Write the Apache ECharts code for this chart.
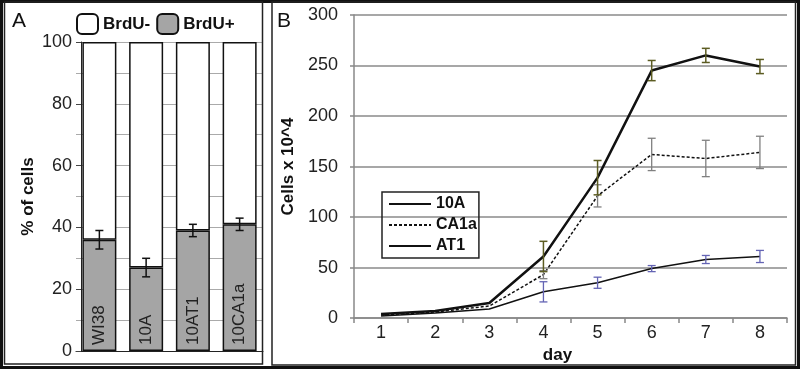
<!DOCTYPE html>
<html><head><meta charset="utf-8">
<script src="https://cdn.jsdelivr.net/npm/echarts@6/dist/echarts.min.js"></script>
<style>html,body{margin:0;padding:0;background:#fff}#c{width:800px;height:369px}</style>
</head><body><div id="c"></div>
<script>
// Panel A data
const catsA = ['WI38', '10A', '10AT1', '10CA1a'];
const brduPos = [36, 27, 39, 41];
const brduNeg = [64, 73, 61, 59];
const brduPosErr = [3, 3, 2, 2];
// Panel B data
const days = ['1', '2', '3', '4', '5', '6', '7', '8'];
const s10A = [2, 5, 9, 26, 35, 49, 58, 61];
const sCA1a = [3, 6, 12, 43, 121, 162, 158, 164];
const sAT1 = [4, 7, 15, 61, 139, 245, 260, 249];
const e10A = [0, 0, 0, 10, 5.5, 3, 4, 6];
const eCA1a = [0, 0, 0, 4, 11, 16, 18, 16];
const eAT1 = [0, 0, 0, 15, 17, 10, 7, 7];
const ticksA = [0, 20, 40, 60, 80, 100];
const ticksB = [0, 50, 100, 150, 200, 250, 300];

const FONT = 'Liberation Sans, Arial, sans-serif';

function errRender(color, cap, lw) {
  return function (params, api) {
    const x = api.value(0);
    const lo = api.value(1), hi = api.value(2);
    if (hi - lo <= 0) return null;
    const p1 = api.coord([x, lo]);
    const p2 = api.coord([x, hi]);
    const st = { stroke: color, lineWidth: lw };
    return {
      type: 'group',
      children: [
        { type: 'line', shape: { x1: p1[0], y1: p1[1], x2: p2[0], y2: p2[1] }, style: st },
        { type: 'line', shape: { x1: p1[0] - cap, y1: p1[1], x2: p1[0] + cap, y2: p1[1] }, style: st },
        { type: 'line', shape: { x1: p2[0] - cap, y1: p2[1], x2: p2[0] + cap, y2: p2[1] }, style: st }
      ]
    };
  };
}
function errData(vals, errs) {
  return vals.map((v, i) => [i, v - errs[i], v + errs[i]]);
}

const chart = echarts.init(document.getElementById('c'), null, { renderer: 'canvas' });
chart.setOption({
  animation: false,
  textStyle: { fontFamily: FONT },
  graphic: [
    { type: 'rect', shape: { x: 1.5, y: 1.5, width: 797, height: 366 }, style: { fill: 'none', stroke: '#111', lineWidth: 3 }, z: 100 },
    { type: 'rect', shape: { x: 4.5, y: 2, width: 258, height: 362 }, style: { fill: 'none', stroke: '#222', lineWidth: 1.5 }, z: 100 },
    { type: 'rect', shape: { x: 272, y: 2, width: 523.5, height: 363 }, style: { fill: 'none', stroke: '#222', lineWidth: 1.5 }, z: 100 },
    { type: 'text', left: 12, top: 11, style: { text: 'A', font: '21px ' + FONT, fill: '#111' }, z: 100 },
    { type: 'text', left: 277, top: 11, style: { text: 'B', font: '21px ' + FONT, fill: '#111' }, z: 100 }
  ],
  legend: [
    {
      data: ['BrdU-', 'BrdU+'],
      left: 76, top: 13, itemWidth: 21, itemHeight: 20, itemGap: 6, padding: 0,
      textStyle: { fontWeight: 'bold', fontSize: 17, color: '#111', fontFamily: FONT }
    },
    {
      data: ['10A', 'CA1a', 'AT1'],
      orient: 'vertical', left: 382, top: 192,
      itemWidth: 42, itemHeight: 14, itemGap: 5,
      padding: [4, 2, 4, 6],
      borderColor: '#222', borderWidth: 1.5,
      itemStyle: { opacity: 0 },
      textStyle: { fontWeight: 'bold', fontSize: 16, color: '#111', fontFamily: FONT }
    }
  ],
  grid: [
    { left: 76, right: 537, top: 42, bottom: 18 },
    { left: 354, right: 13, top: 15, bottom: 50 }
  ],
  xAxis: [
    {
      gridIndex: 0, type: 'category', data: catsA,
      axisLine: { lineStyle: { color: '#222', width: 1 } },
      axisTick: { show: false }, axisLabel: { show: false }
    },
    {
      gridIndex: 1, type: 'category', data: days, boundaryGap: true,
      axisLine: { lineStyle: { color: '#888', width: 1.5 } },
      axisTick: { show: true, length: 5, lineStyle: { color: '#888', width: 1.5 } },
      axisLabel: { fontSize: 18, color: '#222', margin: 6, fontFamily: FONT },
      name: 'day', nameLocation: 'middle', nameGap: 17,
      nameTextStyle: { fontWeight: 'bold', fontSize: 17, color: '#111', padding: [0, 26, 0, 0], fontFamily: FONT }
    }
  ],
  yAxis: [
    {
      gridIndex: 0, type: 'value', min: ticksA[0], max: ticksA[ticksA.length - 1], interval: 20, offset: -5,
      axisLine: { show: true, lineStyle: { color: '#222', width: 1 } },
      axisTick: { show: true, length: 5, lineStyle: { color: '#444' } },
      axisLabel: { fontSize: 18, color: '#222', margin: 9, fontFamily: FONT },
      splitLine: { show: true, lineStyle: { color: '#aaa', width: 1 } },
      minorTick: { show: false, splitNumber: 2 },
      minorSplitLine: { show: true, lineStyle: { color: '#aaa', width: 1 } },
      name: '% of cells', nameLocation: 'middle', nameGap: 44,
      nameTextStyle: { fontWeight: 'bold', fontSize: 17, color: '#111', fontFamily: FONT }
    },
    {
      gridIndex: 1, type: 'value', min: ticksB[0], max: ticksB[ticksB.length - 1], interval: 50,
      axisLine: { show: true, lineStyle: { color: '#888', width: 1.5 } },
      axisTick: { show: true, length: 4, lineStyle: { color: '#888', width: 1.5 } },
      axisLabel: { fontSize: 18, color: '#222', margin: 16, fontFamily: FONT },
      splitLine: { show: true, lineStyle: { color: '#8a8a8a', width: 1.5 } },
      name: 'Cells x 10^4', nameLocation: 'middle', nameGap: 57,
      nameTextStyle: { fontWeight: 'bold', fontSize: 17, color: '#111', fontFamily: FONT }
    }
  ],
  series: [
    {
      name: 'BrdU+', type: 'bar', stack: 'a', xAxisIndex: 0, yAxisIndex: 0, data: brduPos,
      barWidth: 34,
      itemStyle: { color: '#a5a5a5', borderColor: '#111', borderWidth: 1.5 },
      label: {
        show: true, formatter: '{b}', position: 'insideBottom', rotate: 90,
        align: 'left', verticalAlign: 'middle', distance: 6,
        fontSize: 17, color: '#222', fontFamily: FONT
      }
    },
    {
      name: 'BrdU-', type: 'bar', stack: 'a', xAxisIndex: 0, yAxisIndex: 0, data: brduNeg,
      barWidth: 34,
      itemStyle: { color: '#ffffff', borderColor: '#111', borderWidth: 1.5 }
    },
    {
      type: 'custom', xAxisIndex: 0, yAxisIndex: 0, data: errData(brduPos, brduPosErr),
      encode: { x: 0, y: [1, 2] }, renderItem: errRender('#111', 4, 1.5), z: 10
    },
    {
      name: '10A', type: 'line', xAxisIndex: 1, yAxisIndex: 1, data: s10A, symbol: 'none',
      lineStyle: { color: '#111', width: 1.5 }, itemStyle: { color: '#111' }
    },
    {
      name: 'CA1a', type: 'line', xAxisIndex: 1, yAxisIndex: 1, data: sCA1a, symbol: 'none',
      lineStyle: { color: '#111', width: 1.5, type: [3, 2] }, itemStyle: { color: '#111' }
    },
    {
      name: 'AT1', type: 'line', xAxisIndex: 1, yAxisIndex: 1, data: sAT1, symbol: 'none',
      lineStyle: { color: '#111', width: 2.5 }, itemStyle: { color: '#111' }
    },
    {
      type: 'custom', xAxisIndex: 1, yAxisIndex: 1, data: errData(s10A, e10A),
      encode: { x: 0, y: [1, 2] }, renderItem: errRender('#6464b4', 4, 1.3), z: 10
    },
    {
      type: 'custom', xAxisIndex: 1, yAxisIndex: 1, data: errData(sCA1a, eCA1a),
      encode: { x: 0, y: [1, 2] }, renderItem: errRender('#808080', 4, 1.3), z: 10
    },
    {
      type: 'custom', xAxisIndex: 1, yAxisIndex: 1, data: errData(sAT1, eAT1),
      encode: { x: 0, y: [1, 2] }, renderItem: errRender('#5c5c22', 4, 1.5), z: 10
    }
  ]
});
</script></body></html>
